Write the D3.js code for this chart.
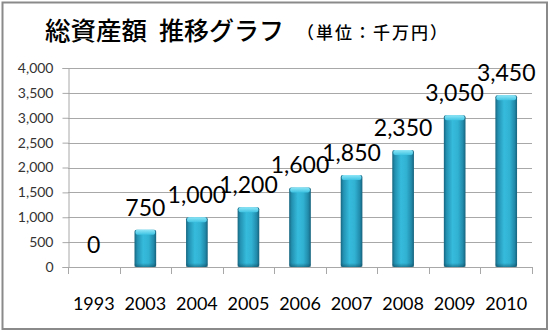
<!DOCTYPE html>
<html><head><meta charset="utf-8">
<script src="https://cdn.jsdelivr.net/npm/d3@7/dist/d3.min.js"></script>
<style>
html,body{margin:0;padding:0;background:#fff;}
svg{display:block;}
</style></head>
<body>
<svg id="chart" width="550" height="331"></svg>
<script>
const titleMain1 = "総資産額";
const titleMain2 = "推移グラフ";
const titleUnit = "（単位：千万円）";
const years = ["1993","2003","2004","2005","2006","2007","2008","2009","2010"];
const values = [0, 750, 1000, 1200, 1600, 1850, 2350, 3050, 3450];
const yTicks = [0, 500, 1000, 1500, 2000, 2500, 3000, 3500, 4000];

const svg = d3.select("#chart");
const W = 550, H = 331;
const m = {left: 68, right: 18, top: 68, bottom: 64};

svg.append("rect").attr("x", 2.5).attr("y", 2.5).attr("width", 544.5).attr("height", 326.5)
  .attr("fill", "#fff").attr("stroke", "#8a8a8a").attr("stroke-width", 2);

const tf = "'Noto Sans CJK JP'";
svg.append("text").attr("x", 45).attr("y", 40).attr("font-family", tf).attr("font-size", 25.5)
  .attr("font-weight", 500).attr("fill", "#000").text(titleMain1);
svg.append("text").attr("x", 159).attr("y", 40).attr("font-family", tf).attr("font-size", 25)
  .attr("font-weight", 500).attr("fill", "#000").text(titleMain2);
svg.append("text").attr("x", 297).attr("y", 39).attr("font-family", tf).attr("font-size", 17)
  .attr("letter-spacing", 2).attr("font-weight", 500).attr("fill", "#000").text(titleUnit);

const x = d3.scaleBand().domain(years).range([m.left, W - m.right]).paddingInner(0.58).paddingOuter(0.29);
const y = d3.scaleLinear().domain([0, 4000]).range([H - m.bottom, m.top]);

const defs = svg.append("defs");
const g1 = defs.append("linearGradient").attr("id", "barGrad").attr("x1", 0).attr("x2", 1).attr("y1", 0).attr("y2", 0);
[["0%", "#176680"], ["12%", "#2390b0"], ["40%", "#36bbdc"], ["65%", "#31b2d3"], ["88%", "#228bab"], ["100%", "#16627c"]]
  .forEach(s => g1.append("stop").attr("offset", s[0]).attr("stop-color", s[1]));
const g2 = defs.append("linearGradient").attr("id", "capGrad").attr("x1", 0).attr("x2", 0).attr("y1", 0).attr("y2", 1);
[["0%", "#8fe6f7"], ["100%", "#3ec3e2"]].forEach(s => g2.append("stop").attr("offset", s[0]).attr("stop-color", s[1]));
const g3 = defs.append("linearGradient").attr("id", "botGrad").attr("x1", 0).attr("x2", 0).attr("y1", 0).attr("y2", 1);
[["0%", "rgba(10,60,80,0)"], ["100%", "rgba(10,60,80,0.45)"]].forEach(s => g3.append("stop").attr("offset", s[0]).attr("stop-color", s[1]));

// gridlines
svg.append("g").selectAll("line").data(yTicks).join("line")
  .attr("x1", m.left).attr("x2", W - m.right)
  .attr("y1", d => Math.round(y(d)) + 0.5).attr("y2", d => Math.round(y(d)) + 0.5)
  .attr("stroke", "#a8a8a8").attr("stroke-width", 1);

// y axis
const yAxis = svg.append("g").attr("transform", `translate(${m.left + 0.5},0)`)
  .call(d3.axisLeft(y).tickValues(yTicks).tickSize(6).tickPadding(9).tickFormat(d3.format(",")));
yAxis.select(".domain").attr("stroke", "#a8a8a8");
yAxis.selectAll(".tick line").attr("stroke", "#a8a8a8");
yAxis.selectAll("text").attr("font-family", "Lato").attr("font-size", 14).attr("fill", "#333");

// x axis
const xAxis = svg.append("g").attr("transform", `translate(0,${Math.round(y(0)) + 0.5})`)
  .call(d3.axisBottom(x).tickSize(0).tickPadding(30));
xAxis.select(".domain").remove();
xAxis.selectAll("text").attr("font-family", "Lato").attr("font-size", 18).attr("fill", "#000");
const step = x.step();
const bounds = years.map((d, i) => x(d) + x.bandwidth() / 2 - step / 2).concat([x(years[years.length - 1]) + x.bandwidth() / 2 + step / 2]);
svg.append("g").selectAll("line").data(bounds).join("line")
  .attr("x1", d => Math.round(d) + 0.5).attr("x2", d => Math.round(d) + 0.5)
  .attr("y1", Math.round(y(0))).attr("y2", Math.round(y(0)) + 7)
  .attr("stroke", "#a8a8a8");

// bars
const bars = svg.append("g").selectAll("g").data(values.map((v, i) => ({v, year: years[i]})).filter(d => d.v > 0)).join("g");
bars.append("rect").attr("x", d => x(d.year)).attr("y", d => y(d.v))
  .attr("width", x.bandwidth()).attr("height", d => y(0) - y(d.v))
  .attr("rx", 2).attr("fill", "url(#barGrad)");
bars.append("rect").attr("x", d => x(d.year) + 1).attr("y", d => y(d.v))
  .attr("width", x.bandwidth() - 2).attr("height", 5)
  .attr("rx", 2).attr("fill", "url(#capGrad)");
bars.append("rect").attr("x", d => x(d.year)).attr("y", d => y(0) - 4)
  .attr("width", x.bandwidth()).attr("height", 4)
  .attr("fill", "url(#botGrad)");

// labels
svg.append("g").selectAll("text").data(values.map((v, i) => ({v, year: years[i]}))).join("text")
  .attr("x", d => x(d.year) + x.bandwidth() / 2)
  .attr("y", d => y(d.v) - 14)
  .attr("text-anchor", "middle")
  .attr("font-family", "Lato").attr("font-size", 23).attr("fill", "#000")
  .text(d => d3.format(",")(d.v));
</script>
</body></html>
